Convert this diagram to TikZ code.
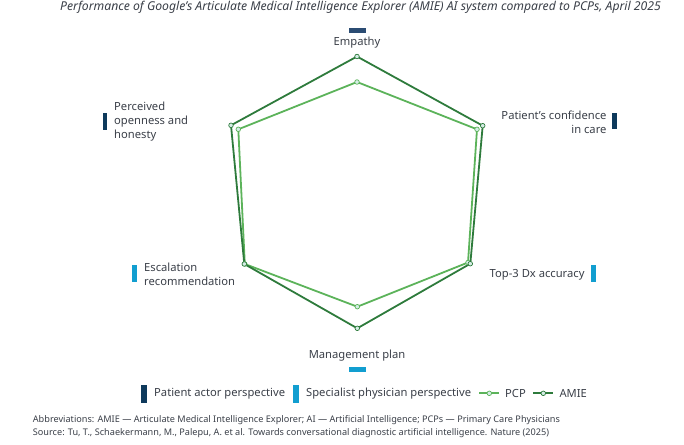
\documentclass[tikz,border=0pt]{standalone}
\usepackage{fontspec}
\setmainfont{Noto Sans}
\definecolor{txt}{HTML}{3A3F48}
\definecolor{navyA}{HTML}{0E3A5C}
\definecolor{navyE}{HTML}{2B4C73}
\definecolor{specc}{HTML}{129ED0}
\definecolor{amiec}{HTML}{2E7B3C}
\definecolor{pcpc}{HTML}{5CB35A}
\definecolor{dotfill}{HTML}{D5EDE6}
\begin{document}
\begin{tikzpicture}[x=1pt,y=-1pt,
  lbl/.style={font=\fontsize{11.2}{13.8}\selectfont, text=txt, inner sep=0pt},
  foot/.style={font=\fontsize{9.15}{10}\selectfont, text=txt, inner sep=0pt, anchor=west},
  dotm/.style={circle, draw=#1, fill=dotfill, line width=0.7pt, minimum size=4.6pt, inner sep=0pt},
  series/.style={line width=1.8pt, line join=round}]
\path[use as bounding box] (0,0) rectangle (684,444);

% title
\node[lbl, font=\fontsize{12.2}{14}\selectfont\itshape, anchor=east] (title) at (661,7)
  {Performance of Google’s Articulate Medical Intelligence Explorer (AMIE) AI system compared to PCPs, April 2025};

% PCP points
\coordinate (pE)  at (357,82);
\coordinate (pP)  at (477,129.3);
\coordinate (pT)  at (468,262.5);
\coordinate (pM)  at (357.3,306.7);
\coordinate (pEs) at (244.8,264);
\coordinate (pPe) at (238.3,129.3);
% AMIE points
\coordinate (aE)  at (357,56.5);
\coordinate (aP)  at (482.7,125.7);
\coordinate (aT)  at (470.3,263.7);
\coordinate (aM)  at (357.3,328.3);
\coordinate (aEs) at (244.3,264);
\coordinate (aPe) at (231,125.3);

\draw[series, pcpc] (pE) -- (pP) -- (pT) -- (pM) -- (pEs) -- (pPe) -- cycle;
\draw[series, amiec] (aE) -- (aP) -- (aT) -- (aM) -- (aEs) -- (aPe) -- cycle;
\foreach \n in {E,P,T,M,Es,Pe} {
  \node[dotm=pcpc] (dp\n) at (p\n) {};
}
\foreach \n in {E,P,T,M,Es,Pe} {
  \node[dotm=amiec] (da\n) at (a\n) {};
}

% axis labels
\fill[navyE] (349.3,28.3) rectangle (365.7,33.3);
\node[lbl] (lE) at (357,43) {Empathy};

\fill[navyA] (102.7,113.3) rectangle (107.3,130);
\node[lbl, align=left, anchor=west] (lPe) at (114,121.7) {Perceived\\openness and\\honesty};

\fill[navyA] (611.7,113.3) rectangle (616.7,129.3);
\node[lbl, align=right, anchor=east] (lP) at (606.7,122.2) {Patient\char39 s confidence\\in care};

\fill[specc] (132,264.5) rectangle (136.8,281.5);
\node[lbl, align=left, anchor=west] (lEs) at (144,274.5) {Escalation\\recommendation};

\fill[specc] (591.3,265) rectangle (596.3,281.7);
\node[lbl, anchor=east] (lT) at (584.7,274.3) {Top-3 Dx accuracy};

\node[lbl] (lM) at (357,355.5) {Management plan};
\fill[specc] (349.3,367.3) rectangle (365.7,372);

% legend
\fill[navyA] (141,385) rectangle (146.5,403);
\node[lbl, anchor=west] (lg1) at (154,393.3) {Patient actor perspective};
\fill[specc] (293.3,385) rectangle (298.7,403);
\node[lbl, anchor=west] (lg2) at (306,393.3) {Specialist physician perspective};
\coordinate (l3a) at (479.3,393.3);
\coordinate (l3b) at (499.3,393.3);
\draw[pcpc, line width=1.8pt] (l3a) -- (l3b);
\node[dotm=pcpc] (l3d) at (489.3,393.3) {};
\node[lbl, anchor=west] (lg3) at (505,393.3) {PCP};
\coordinate (l4a) at (533.3,393.3);
\coordinate (l4b) at (553.3,393.3);
\draw[amiec, line width=1.8pt] (l4a) -- (l4b);
\node[dotm=amiec] (l4d) at (543.3,393.3) {};
\node[lbl, anchor=west] (lg4) at (559.3,393.3) {AMIE};

% footnotes
\node[foot] (f1) at (32.7,420) {Abbreviations: AMIE — Articulate Medical Intelligence Explorer; AI — Artificial Intelligence; PCPs — Primary Care Physicians};
\node[foot] (f2) at (32.7,433.5) {Source: Tu, T., Schaekermann, M., Palepu, A. et al. Towards conversational diagnostic artificial intelligence. Nature (2025)};
\end{tikzpicture}
\end{document}
